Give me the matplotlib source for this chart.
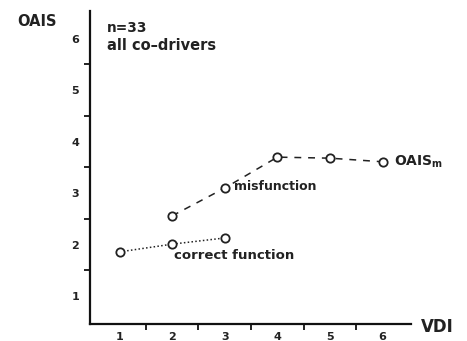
import matplotlib
matplotlib.use("Agg")
import matplotlib.pyplot as plt
from matplotlib.ticker import FixedLocator

vdi = [1, 2, 3, 4, 5, 6]
correct_x = [1, 2, 3]
correct_y = [1.86, 2.01, 2.13]
misfunction_x = [2, 3, 4, 5, 6]
misfunction_y = [2.56, 3.10, 3.70, 3.68, 3.61]
y_labels = [1, 2, 3, 4, 5, 6]

plt.rcParams['font.family'] = ['DejaVu Sans']

fig = plt.figure(figsize=(4.67, 3.41), dpi=100)
ax = fig.add_axes([0.193, 0.050, 0.687, 0.918])
ax.set_xlim(0.44, 6.54)
ax.set_ylim(0.46, 6.54)

for s in ['top', 'right']:
    ax.spines[s].set_visible(False)
for s in ['left', 'bottom']:
    ax.spines[s].set_linewidth(1.6)
    ax.spines[s].set_color('#111111')

ax.plot(correct_x, correct_y, linestyle=(0, (1, 1.5)), color='#222222', lw=1.1,
        marker='o', markersize=6, markerfacecolor='white', markeredgecolor='#222222', markeredgewidth=1.3)
ax.plot(misfunction_x, misfunction_y, linestyle=(0, (4.5, 4.5)), color='#222222', lw=1.1,
        marker='o', markersize=6, markerfacecolor='white', markeredgecolor='#222222', markeredgewidth=1.3)

ax.xaxis.set_major_locator(FixedLocator(vdi))
ax.yaxis.set_major_locator(FixedLocator(y_labels))
ax.xaxis.set_minor_locator(FixedLocator([1.5, 2.5, 3.5, 4.5, 5.5]))
ax.yaxis.set_minor_locator(FixedLocator([1.5, 2.5, 3.5, 4.5, 5.5]))
ax.tick_params(which='major', length=0, labelsize=8, pad=6, colors='#222222')
ax.tick_params(axis='y', which='major', pad=8)
ax.tick_params(which='minor', length=4, width=1.4, direction='out', color='#222222')
for lbl in ax.get_xticklabels() + ax.get_yticklabels():
    lbl.set_fontweight('bold')

tk = dict(fontweight='bold', color='#222222')
fig.text(37/467, 1-21/341, 'OAIS', fontsize=10.5, ha='center', va='center', **tk)
fig.text(437/467, 1-327/341, 'VDI', fontsize=12, ha='center', va='center', **tk)
fig.text(107/467, 1-28/341, 'n=33', fontsize=9.8, ha='left', va='center', **tk)
fig.text(107/467, 1-46/341, 'all co\u2013drivers', fontsize=10.5, ha='left', va='center', **tk)
ax.annotate('misfunction', (3, 3.10), xytext=(7, 1), textcoords='offset points',
            fontsize=9, ha='left', va='center', **tk)
ax.annotate('correct function', (2, 2.01), xytext=(1, -8), textcoords='offset points',
            fontsize=9.5, ha='left', va='center', **tk)
ax.annotate('OAIS$_\\mathregular{m}$', (6, 3.61), xytext=(8, 0), textcoords='offset points',
            fontsize=10, ha='left', va='center', **tk)

fig.savefig('out.png', dpi=100, facecolor='white')
